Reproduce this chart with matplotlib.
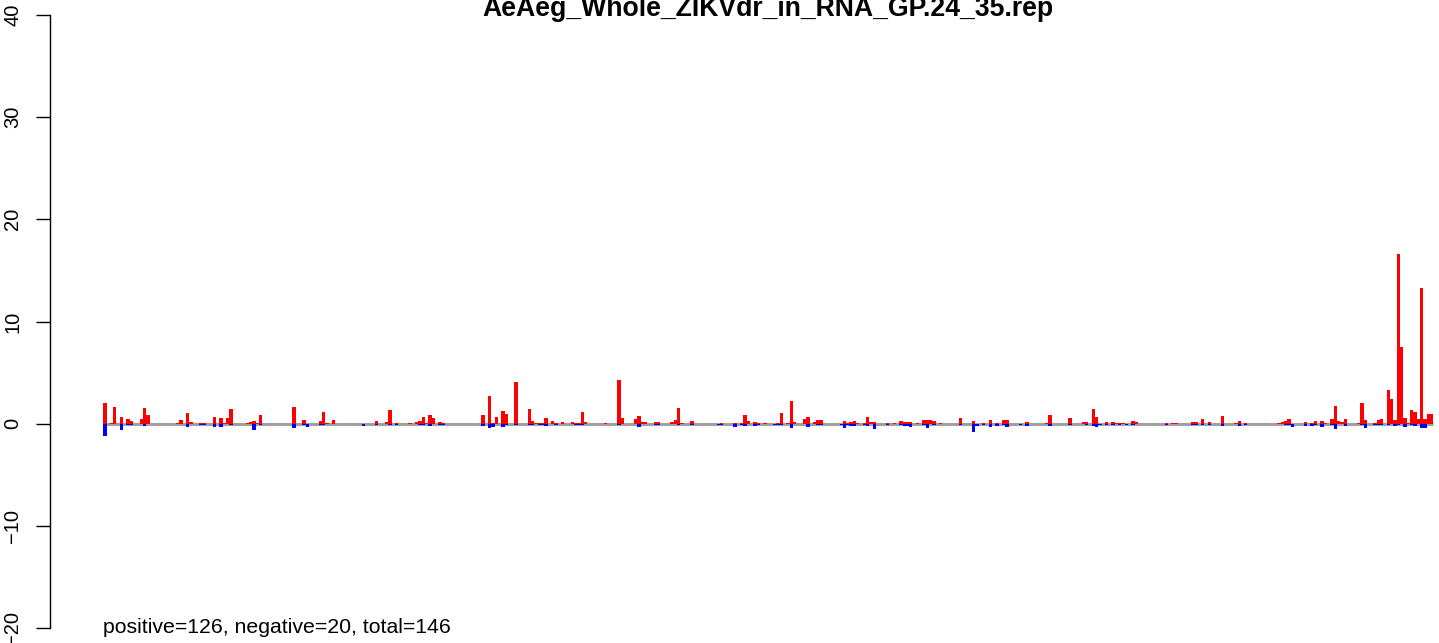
import numpy as np
import matplotlib.pyplot as plt

plt.rcParams['font.family'] = ['Liberation Sans', 'DejaVu Sans']

title = "AeAeg_Whole_ZIKVdr_in_RNA_GP.24_35.rep"
n_bins = 401

# bin index, positive-strand value, negative-strand value
bins = [0, 2, 3, 5, 7, 8, 11, 12, 13, 22, 23, 25, 26, 29, 30, 33, 35, 36, 37, 38,
        43, 44, 45, 46, 47, 57, 60, 61, 65, 66, 67, 69, 78, 79, 82, 85, 86, 88, 92, 94,
        95, 96, 97, 98, 99, 101, 102, 114, 116, 117, 118, 120, 121, 124, 128, 129, 130, 131, 132, 133,
        135, 136, 138, 141, 142, 143, 144, 145, 151, 155, 156, 160, 161, 162, 163, 166, 167, 171, 172, 173,
        174, 177, 185, 186, 190, 192, 193, 194, 196, 197, 199, 202, 203, 204, 206, 207, 208, 211, 212, 214,
        215, 216, 222, 223, 224, 225, 226, 227, 229, 230, 231, 232, 236, 238, 240, 241, 242, 243, 245, 247,
        248, 249, 250, 252, 258, 262, 263, 265, 267, 269, 271, 272, 276, 278, 284, 285, 291, 295, 296, 298,
        299, 300, 302, 304, 305, 306, 307, 308, 310, 311, 320, 322, 323, 328, 329, 331, 333, 337, 341, 342,
        344, 354, 355, 356, 357, 358, 362, 364, 365, 367, 368, 370, 371, 372, 373, 374, 378, 379, 380, 383,
        384, 385, 387, 388, 389, 390, 391, 392, 393, 394, 395, 396, 397, 398, 399, 400]
pos = [2.0, 0.1, 1.6, 0.65, 0.45, 0.25, 0.45, 1.55, 0.85, 0.1, 0.35, 1.05, 0.15, 0.1, 0.1, 0.65, 0.55, 0.1, 0.55, 1.45,
       0.1, 0.15, 0.25, 0.05, 0.85, 1.65, 0.35, 0, 0.25, 1.15, 0.05, 0.35, 0, 0, 0.25, 0.15, 1.35, 0.1, 0.1, 0.15,
       0.25, 0.65, 0.1, 0.85, 0.55, 0.15, 0.1, 0.85, 2.7, 0.1, 0.65, 1.25, 0.95, 4.1, 1.45, 0.25, 0.1, 0.1, 0.1, 0.55,
       0.25, 0.1, 0.15, 0.15, 0.1, 0.1, 1.15, 0.15, 0.1, 4.3, 0.55, 0.45, 0.75, 0.15, 0.15, 0.15, 0.15, 0.15, 0.35, 1.55,
       0.1, 0.25, 0, 0.1, 0.1, 0.1, 0.85, 0.25, 0.15, 0.1, 0.1, 0, 0.1, 1.05, 0.1, 2.2, 0.15, 0.45, 0.65, 0.15,
       0.35, 0.35, 0, 0.25, 0.05, 0.15, 0.25, 0.1, 0.1, 0.65, 0.15, 0.15, 0.1, 0.1, 0.25, 0.15, 0.15, 0.15, 0.1, 0.35,
       0.35, 0.35, 0.25, 0.1, 0.55, 0.25, 0, 0.1, 0.35, 0.1, 0.35, 0.35, 0, 0.15, 0.1, 0.85, 0.55, 0.15, 0.15, 1.45,
       0.65, 0, 0.15, 0.15, 0.1, 0.1, 0.1, 0, 0.25, 0.15, 0.1, 0.1, 0.1, 0.15, 0.15, 0.45, 0.15, 0.75, 0.1, 0.25,
       0.1, 0.1, 0.15, 0.25, 0.45, 0, 0.15, 0.1, 0.25, 0.25, 0.05, 0.45, 1.75, 0.25, 0.15, 0.45, 0.05, 2.0, 0.35, 0.05,
       0.35, 0.45, 3.3, 2.4, 0.35, 16.6, 7.5, 0.55, 0.05, 1.35, 1.15, 0.45, 13.3, 0.45, 0.95, 0.95]
neg = [-1.2, 0, 0, -0.6, -0.1, -0.1, 0, -0.2, 0, 0, 0, -0.3, 0, -0.1, -0.1, -0.3, -0.3, 0, 0, -0.1,
       0, 0, -0.6, 0, -0.1, -0.4, -0.1, -0.3, -0.1, -0.1, 0, 0, -0.2, -0.05, -0.1, 0, -0.1, -0.1, 0, 0,
       -0.1, -0.1, 0, -0.2, 0, -0.1, -0.1, -0.2, -0.4, -0.3, 0, -0.3, -0.1, -0.1, -0.1, -0.1, 0, -0.1, -0.1, -0.2,
       0, -0.1, 0, 0, -0.1, -0.1, -0.1, 0, 0, -0.1, 0, 0, -0.3, 0, 0, -0.1, -0.1, 0, 0, -0.1,
       0, -0.1, -0.1, -0.1, -0.3, -0.1, -0.2, 0, -0.2, -0.1, 0, -0.1, -0.1, -0.1, 0, -0.4, 0, 0, -0.3, 0,
       -0.1, -0.1, -0.1, -0.4, -0.1, -0.2, -0.2, 0, -0.1, -0.2, 0, -0.5, -0.1, 0, -0.1, -0.2, -0.2, -0.3, 0, -0.1,
       -0.4, 0, -0.1, 0, -0.1, -0.8, -0.2, -0.1, -0.3, -0.2, -0.1, -0.3, -0.1, -0.2, 0, -0.2, -0.1, 0, -0.1, -0.2,
       -0.3, -0.1, -0.1, -0.1, 0, -0.1, 0, -0.1, -0.1, 0, -0.1, 0, 0, -0.1, -0.1, -0.1, -0.1, -0.2, 0, -0.2,
       -0.1, 0, 0, -0.1, -0.1, -0.3, -0.2, -0.2, -0.1, -0.3, 0, -0.1, -0.5, 0, 0, -0.2, 0, -0.1, -0.4, -0.1,
       -0.1, -0.1, -0.1, 0, -0.2, -0.1, 0, -0.3, 0, -0.1, -0.2, 0, -0.4, -0.4, 0, 0]

n_pos, n_neg = 126, 20

W, H = 1439, 643
fig = plt.figure(figsize=(W / 100, H / 100), dpi=100)

# plot region in pixels (R style, partly outside the cropped image)
left_px, right_px = 50, 1486.4
top_px, bottom_px = -9.5, 652.5
ax = fig.add_axes([left_px / W, (H - bottom_px) / H,
                   (right_px - left_px) / W, (bottom_px - top_px) / H])

pad = 0.04 * n_bins
ax.set_xlim(-pad, n_bins + pad)
ax.set_ylim(-22.4, 42.4)

ax.plot([0, n_bins], [0, 0], color='#a0a0a0', lw=2.2, zorder=1, solid_capstyle='butt')
ax.bar(bins, pos, width=1.0, align='edge', color='#ff0000', linewidth=0, zorder=2)
ax.bar(bins, neg, width=1.0, align='edge', color='#0000ff', linewidth=0, zorder=2)

for s in ['top', 'right', 'bottom']:
    ax.spines[s].set_visible(False)
ax.spines['left'].set_bounds(-20, 40)
ax.spines['left'].set_linewidth(1.0)
ax.set_xticks([])
ax.set_yticks([-20, -10, 0, 10, 20, 30, 40])
ax.set_yticklabels(['\u221220', '\u221210', '0', '10', '20', '30', '40'])
ax.tick_params(axis='y', length=10, width=1.0, pad=10, labelsize=14.5)
for lab in ax.get_yticklabels():
    lab.set_rotation(90)
    lab.set_va('center')

ax.text(0, -20, f"positive={n_pos}, negative={n_neg}, total={n_pos + n_neg}",
        ha='left', va='center', fontsize=15.3)

fig.text(768 / W, 1 - 15.5 / H, title, ha='center', va='baseline',
         fontsize=19.2, fontweight='bold')

fig.savefig('out.png', dpi=100)
